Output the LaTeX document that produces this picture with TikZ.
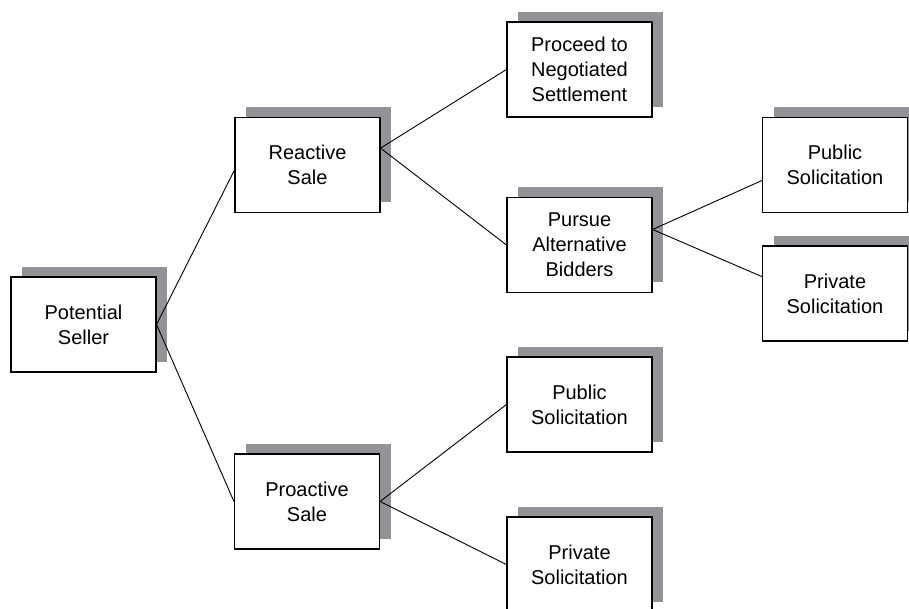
\documentclass[tikz,border=0pt]{standalone}
\usepackage{fontspec}
\setmainfont{Liberation Sans}
\usetikzlibrary{shadows}
\definecolor{shadowgray}{RGB}{146,147,151}
\tikzset{
  box/.style={draw, line width=1.1pt, fill=white, minimum width=145pt, minimum height=95pt,
    inner sep=0pt, align=center, font=\fontsize{20}{25}\selectfont,
    general shadow={draw=none, fill=shadowgray, shadow xshift=11pt, shadow yshift=10pt}},
  link/.style={line width=0.9pt}
}
\begin{document}
\begin{tikzpicture}[x=1pt,y=-1pt]
\clip (0,0) rectangle (909,609);

\node[box] (seller)    at ( 83.5,324.5) {Potential\\Seller};
\node[box] (reactive)  at (307.5,165)   {Reactive\\Sale};
\node[box] (proactive) at (307,501.5)   {Proactive\\Sale};
\node[box] (proceed)   at (579.5,69.5)  {Proceed to\\Negotiated\\Settlement};
\node[box] (pursue)    at (579.5,245)   {Pursue\\Alternative\\Bidders};
\node[box] (publicA)   at (835,165)     {Public\\Solicitation};
\node[box] (privateA)  at (835,293.5)   {Private\\Solicitation};
\node[box] (publicB)   at (579.5,404.5) {Public\\Solicitation};
\node[box] (privateB)  at (579.5,564.5) {Private\\Solicitation};

\draw[link] (seller.east) -- (reactive.184);
\draw[link] (seller.east) -- (proactive.west);
\draw[link] (reactive.13) -- (proceed.west);
\draw[link] (reactive.13) -- (pursue.west);
\draw[link] (pursue.12) -- (publicA.192);
\draw[link] (pursue.12) -- (privateA.167);
\draw[link] (proactive.east) -- (publicB.west);
\draw[link] (proactive.east) -- (privateB.west);

\end{tikzpicture}
\end{document}
